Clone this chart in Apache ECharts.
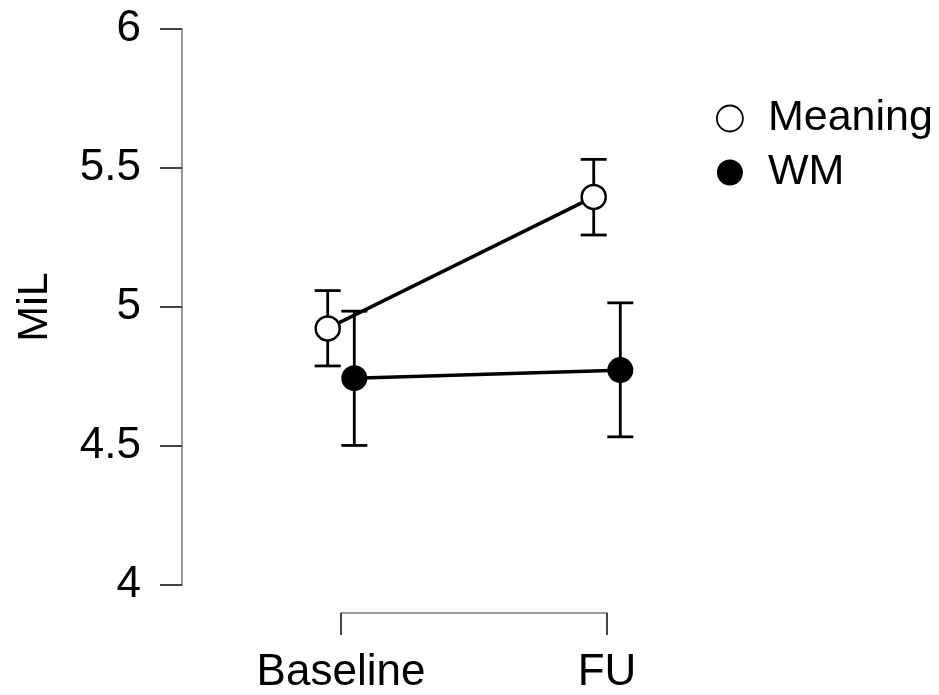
<!DOCTYPE html>
<html>
<head>
<meta charset="utf-8">
<script src="https://cdn.jsdelivr.net/npm/echarts@6/dist/echarts.min.js"></script>
<style>
  html, body { margin: 0; padding: 0; background: #fff; }
  #chart { width: 939px; height: 695px; }
</style>
</head>
<body>
<div id="chart"></div>
<script>
// time points (x = 1, 2)
const timePoints = ['Baseline', 'FU']
const groups = ['Meaning', 'WM']
// means and error bar bounds
const meaningMean = [4.923, 5.396]
const meaningLow = [4.788, 5.259]
const meaningHigh = [5.059, 5.531]
const wmMean = [4.744, 4.773]
const wmLow = [4.502, 4.533]
const wmHigh = [4.985, 5.015]
const dodge = [-0.05, 0.05]

const font = 'Liberation Sans, Arial, Helvetica, sans-serif'

const chart = echarts.init(document.getElementById('chart'))

const toPoints = (means, d) => means.map((m, i) => [i + 1 + d, m])
const toBars = (lows, highs, d) => lows.map((lo, i) => [i + 1 + d, lo, highs[i]])

const errorBar = (name, data) => ({
  name: name,
  type: 'custom',
  z: 1,
  silent: true,
  data: data,
  encode: { x: 0, y: [1, 2] },
  renderItem: function (params, api) {
    const x = api.value(0)
    const lo = api.coord([x, api.value(1)])
    const hi = api.coord([x, api.value(2)])
    const cap = 13
    const style = { stroke: '#000', lineWidth: 2.8 }
    return {
      type: 'group',
      children: [
        { type: 'line', shape: { x1: lo[0], y1: lo[1], x2: hi[0], y2: hi[1] }, style: style },
        { type: 'line', shape: { x1: lo[0] - cap, y1: lo[1], x2: lo[0] + cap, y2: lo[1] }, style: style },
        { type: 'line', shape: { x1: hi[0] - cap, y1: hi[1], x2: hi[0] + cap, y2: hi[1] }, style: style }
      ]
    }
  }
})

const option = {
  animation: false,
  backgroundColor: '#fff',
  textStyle: { fontFamily: font },
  grid: { left: 341, right: 332, top: 29, bottom: 107, containLabel: false },
  legend: {
    orient: 'vertical',
    left: 711,
    top: 92,
    itemWidth: 26,
    itemHeight: 26,
    itemGap: 11,
    icon: 'circle',
    data: [
      { name: 'Meaning', itemStyle: { color: '#fff', borderColor: '#000', borderWidth: 1.8 } },
      { name: 'WM', itemStyle: { color: '#000', borderWidth: 0 } }
    ],
    textStyle: { fontFamily: font, fontSize: 43, color: '#000', padding: [0, 0, 0, 20] }
  },
  xAxis: {
    type: 'value',
    min: 1,
    max: 2,
    interval: 1,
    offset: 28,
    splitLine: { show: false },
    axisLine: { show: true, lineStyle: { color: '#999', width: 2 } },
    axisTick: { show: true, length: 22, lineStyle: { color: '#444', width: 2 } },
    axisLabel: {
      margin: 38,
      fontSize: 44,
      color: '#000',
      fontFamily: font,
      formatter: v => timePoints[v - 1] || ''
    }
  },
  yAxis: {
    type: 'value',
    min: 4,
    max: 6,
    interval: 0.5,
    offset: 159,
    name: 'MiL',
    nameLocation: 'middle',
    nameRotate: 90,
    nameGap: 125,
    nameTextStyle: { fontSize: 43, color: '#000', fontFamily: font },
    splitLine: { show: false },
    axisLine: { show: true, lineStyle: { color: '#999', width: 2 } },
    axisTick: { show: true, length: 22, lineStyle: { color: '#444', width: 2 } },
    axisLabel: {
      margin: 41,
      fontSize: 44,
      color: '#000',
      fontFamily: font,
      formatter: v => String(v)
    }
  },
  series: [
    errorBar('MeaningErr', toBars(meaningLow, meaningHigh, dodge[0])),
    errorBar('WMErr', toBars(wmLow, wmHigh, dodge[1])),
    {
      name: 'Meaning',
      type: 'line',
      z: 3,
      clip: false,
      data: toPoints(meaningMean, dodge[0]),
      symbol: 'circle',
      symbolSize: 24,
      lineStyle: { color: '#000', width: 3.5 },
      itemStyle: { color: '#fff', borderColor: '#000', borderWidth: 2.5 }
    },
    {
      name: 'WM',
      type: 'line',
      z: 3,
      clip: false,
      data: toPoints(wmMean, dodge[1]),
      symbol: 'circle',
      symbolSize: 26,
      lineStyle: { color: '#000', width: 3.5 },
      itemStyle: { color: '#000', borderColor: '#000', borderWidth: 0 }
    }
  ]
}

chart.setOption(option)
</script>
</body>
</html>
